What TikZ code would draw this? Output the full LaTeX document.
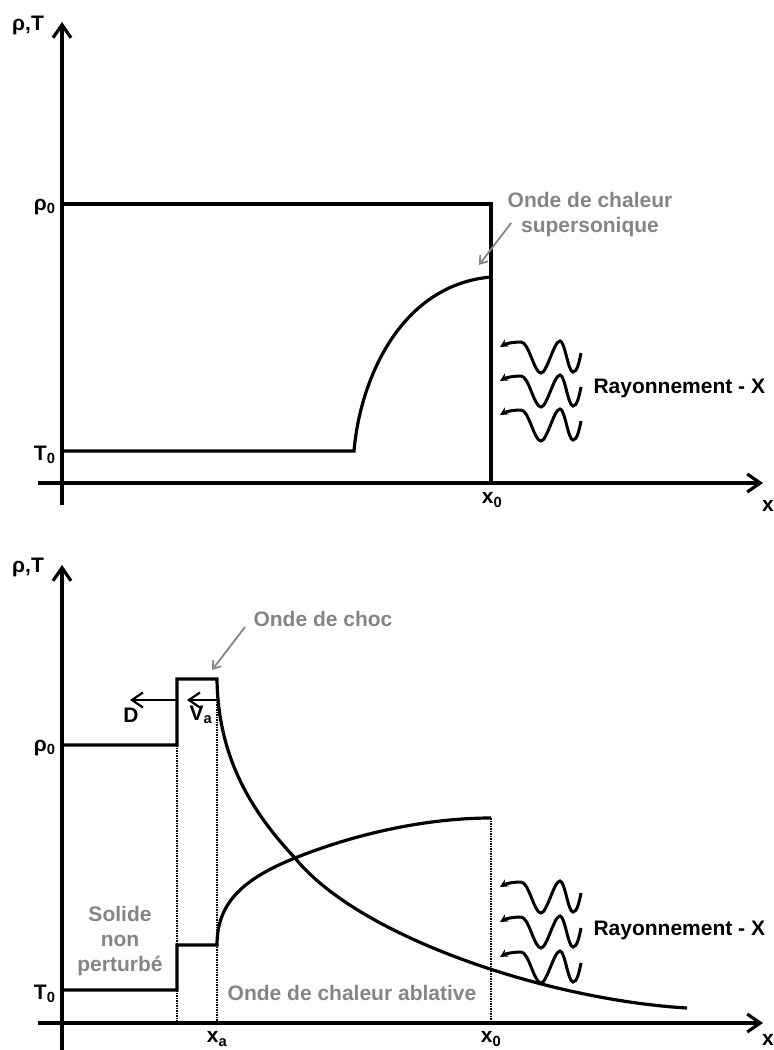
\documentclass[tikz,border=0pt]{standalone}
\usepackage{fontspec}
\setmainfont{Liberation Sans}
\usepackage{tikz}
\usetikzlibrary{arrows.meta,positioning}
\definecolor{noteGray}{HTML}{858585}

\begin{document}
\begin{tikzpicture}[x=1pt, y=-1pt,
  font=\fontsize{21}{25}\selectfont\bfseries,
  axis/.style={line width=3.2pt, -{Straight Barb[length=13pt,width=18pt]}},
  curve/.style={line width=3.2pt},
  guide/.style={line width=1.5pt, densely dotted},
  speed/.style={line width=2.2pt, -{Straight Barb[length=11pt,width=15pt]}},
  note/.style={text=noteGray, align=center},
  pointer/.style={draw=noteGray, line width=1.8pt, -{Straight Barb[length=7pt,width=10pt]}},
  xray/.style={line width=3pt, -{Stealth[length=8pt,width=8pt]}}]
\useasboundingbox (0,0) rectangle (774,1050);

% onde de chaleur supersonique
\draw[axis] (38,483) -- (763,483);
\draw[axis] (62,505) -- (62,22);
\draw[curve] (62,204) -- (491,204) -- (491,483);
\draw[curve] (62,451) -- (354,451) .. controls (360,380) and (400,285) .. (491,277);
\node (rtA) at (28,25) {ρ,T};
\node[anchor=east] (rhoA) at (59,207) {ρ\textsubscript{0}};
\node[anchor=east] (tempA) at (59,455) {T\textsubscript{0}};
\node (xzA) at (492,500) {x\textsubscript{0}};
\node (xA) at (768,506) {x};
\node[note] (superA) at (590,215) {Onde de chaleur\\supersonique};
\draw[pointer] ([shift={(7,8)}]superA.west) -- (479,265);
\foreach \yy in {347,381,415} {
  \begin{scope}[shift={(500,\yy)}]
    \draw[xray] (81,6) .. controls (79,16) and (77,25) .. (73,25) .. controls (68,25) and (65,-6) .. (60,-6)
      .. controls (54,-6) and (47,26) .. (41,26) .. controls (34,26) and (29,-5) .. (21,-5)
      .. controls (12,-5) and (5,-3) .. (0,0);
  \end{scope}
}
\node[anchor=west] (rayA) at (590,388) {Rayonnement - X};

% onde de chaleur ablative
\draw[axis] (38,1023) -- (763,1023);
\draw[axis] (62,1050) -- (62,565);
\draw[guide] (177,745) -- (177,1023);
\draw[guide] (217,679) -- (217,1023);
\draw[guide] (491,818) -- (491,1023);
\draw[curve] (62,745) -- (177,745) -- (177,679) -- (217,679) .. controls (218,750) and (245,805) .. (295,858)
  .. controls (360,938) and (550,1000) .. (687,1008);
\draw[curve] (62,990) -- (177,990) -- (177,945) -- (217,945) .. controls (217,905) and (240,880) .. (295,858)
  .. controls (360,832) and (430,818) .. (491,818);
\draw[speed] (177,700) -- (130,700);
\draw[speed] (217,700) -- (187,700);
\node (dB) at (131,715) {D};
\node (vaB) at (201,715) {V\textsubscript{a}};
\node (rtB) at (28,567) {ρ,T};
\node[anchor=east] (rhoB) at (59,748) {ρ\textsubscript{0}};
\node[anchor=east] (tempB) at (59,994) {T\textsubscript{0}};
\node[note, anchor=west] (chocB) at (250,619) {Onde de choc};
\draw[pointer] ([shift={(-5,8)}]chocB.west) -- (212,670);
\node[note] (solB) at (120,941) {Solide\\non\\perturbé};
\node[note] (ablB) at (352,993) {Onde de chaleur ablative};
\node (xaB) at (217,1039) {x\textsubscript{a}};
\node (xzB) at (491,1039) {x\textsubscript{0}};
\node (xB) at (768,1040) {x};
\foreach \yy in {887,922,957} {
  \begin{scope}[shift={(500,\yy)}]
    \draw[xray] (81,6) .. controls (79,16) and (77,25) .. (73,25) .. controls (68,25) and (65,-6) .. (60,-6)
      .. controls (54,-6) and (47,26) .. (41,26) .. controls (34,26) and (29,-5) .. (21,-5)
      .. controls (12,-5) and (5,-3) .. (0,0);
  \end{scope}
}
\node[anchor=west] (rayB) at (590,930) {Rayonnement - X};
\end{tikzpicture}
\end{document}
